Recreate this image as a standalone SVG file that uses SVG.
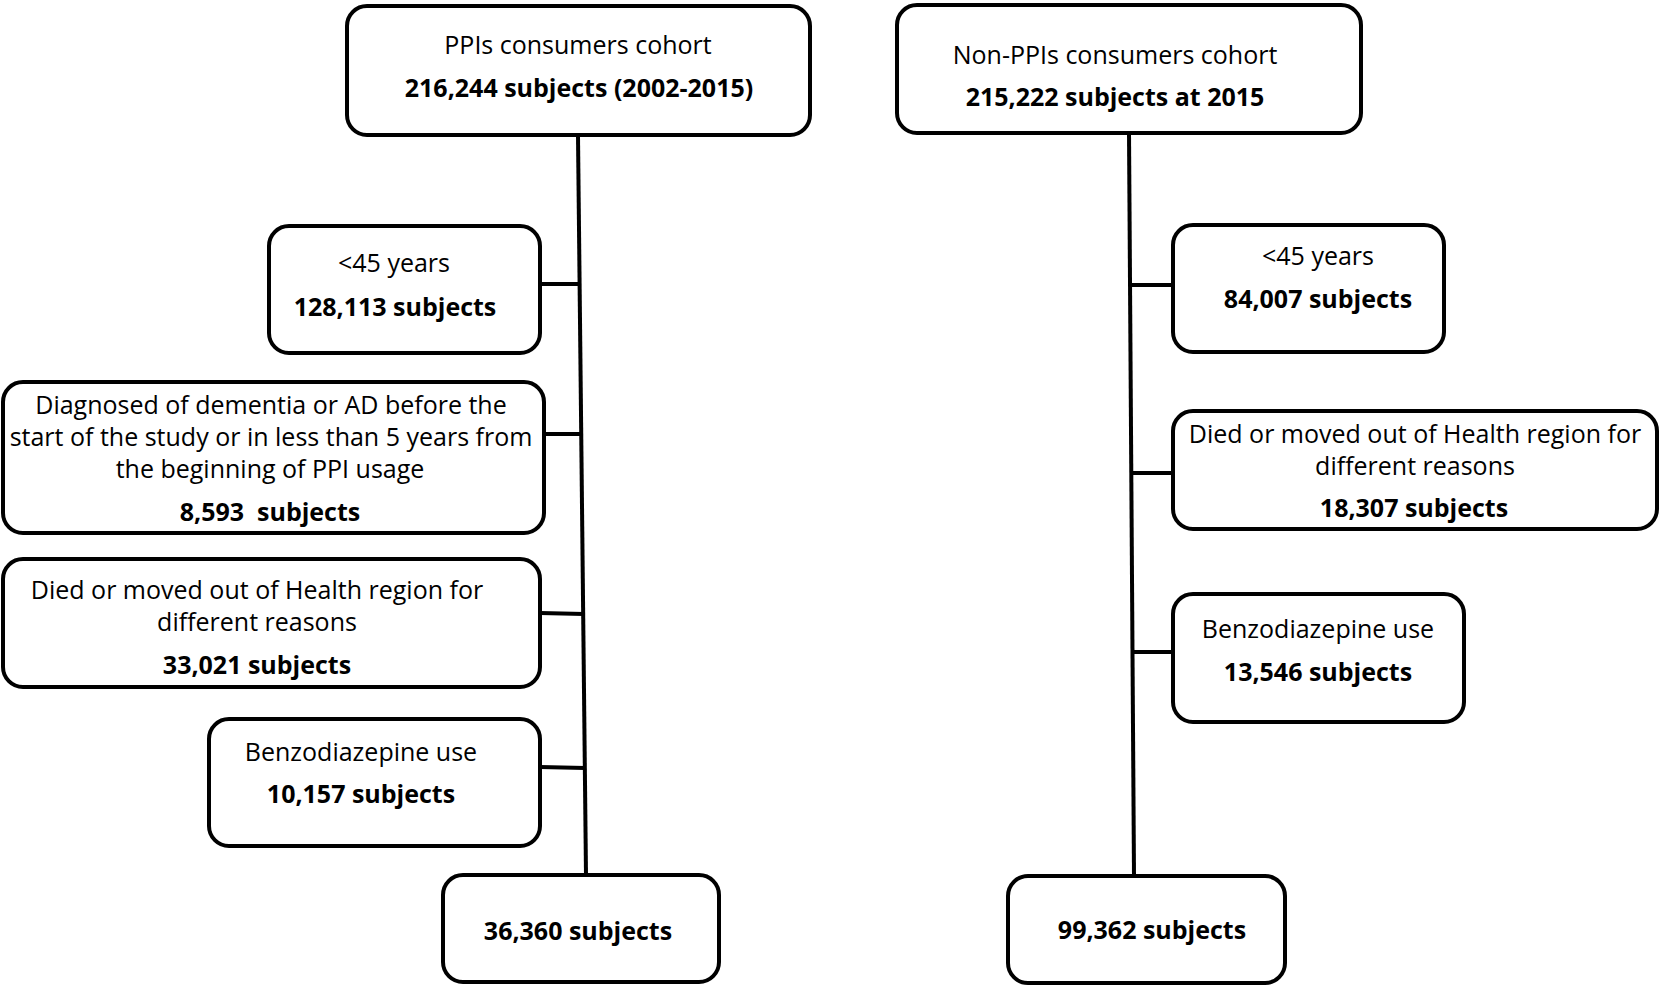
<svg xmlns="http://www.w3.org/2000/svg" width="1661" height="987" viewBox="0 0 1661 987">
<style>
.box{fill:#fff;stroke:#000;stroke-width:4}
.ln{stroke:#000;stroke-width:4;fill:none}
text{font-family:"Open Sans","Liberation Sans",sans-serif;font-size:25px;fill:#000;text-anchor:middle}
.b{font-weight:bold}
</style>
<rect width="1661" height="987" fill="#fff"/>
<g id="connectors">
<line class="ln" x1="578" y1="136" x2="586" y2="875"/>
<line class="ln" x1="540" y1="284" x2="580" y2="284"/>
<line class="ln" x1="544" y1="434" x2="582" y2="434"/>
<line class="ln" x1="540" y1="613" x2="584" y2="614"/>
<line class="ln" x1="540" y1="767" x2="585" y2="768"/>
<line class="ln" x1="1129" y1="133" x2="1134" y2="875"/>
<line class="ln" x1="1130" y1="285" x2="1173" y2="285"/>
<line class="ln" x1="1131" y1="473" x2="1173" y2="473"/>
<line class="ln" x1="1132" y1="652" x2="1173" y2="652"/>
</g>
<g id="ppi-cohort">
<rect class="box" x="347" y="6" width="463" height="129" rx="20"/>
<text x="578" y="54">PPIs consumers cohort</text>
<text class="b" x="579" y="97">216,244 subjects (2002-2015)</text>
</g>
<g id="nonppi-cohort">
<rect class="box" x="897" y="5" width="464" height="128" rx="20"/>
<text x="1115" y="64">Non-PPIs consumers cohort</text>
<text class="b" x="1115" y="106">215,222 subjects at 2015</text>
</g>
<g id="left-age">
<rect class="box" x="269" y="226" width="271" height="127" rx="20"/>
<text x="394" y="272">&lt;45 years</text>
<text class="b" x="395" y="316">128,113 subjects</text>
</g>
<g id="left-dementia">
<rect class="box" x="3" y="382" width="541" height="151" rx="20"/>
<text x="271" y="414">Diagnosed of dementia or AD before the</text>
<text x="271" y="446">start of the study or in less than 5 years from</text>
<text x="270" y="478">the beginning of PPI usage</text>
<text class="b" x="270" y="521" xml:space="preserve">8,593  subjects</text>
</g>
<g id="left-died">
<rect class="box" x="3" y="559" width="537" height="128" rx="20"/>
<text x="257" y="599">Died or moved out of Health region for</text>
<text x="257" y="631">different reasons</text>
<text class="b" x="257" y="674">33,021 subjects</text>
</g>
<g id="left-benzo">
<rect class="box" x="209" y="719" width="331" height="127" rx="20"/>
<text x="361" y="761">Benzodiazepine use</text>
<text class="b" x="361" y="803">10,157 subjects</text>
</g>
<g id="left-final">
<rect class="box" x="443" y="875" width="276" height="107" rx="20"/>
<text class="b" x="578" y="940">36,360 subjects</text>
</g>
<g id="right-age">
<rect class="box" x="1173" y="225" width="271" height="127" rx="20"/>
<text x="1318" y="265">&lt;45 years</text>
<text class="b" x="1318" y="308">84,007 subjects</text>
</g>
<g id="right-died">
<rect class="box" x="1173" y="411" width="484" height="118" rx="20"/>
<text x="1415" y="443">Died or moved out of Health region for</text>
<text x="1415" y="475">different reasons</text>
<text class="b" x="1414" y="517">18,307 subjects</text>
</g>
<g id="right-benzo">
<rect class="box" x="1173" y="594" width="291" height="128" rx="20"/>
<text x="1318" y="638">Benzodiazepine use</text>
<text class="b" x="1318" y="681">13,546 subjects</text>
</g>
<g id="right-final">
<rect class="box" x="1008" y="876" width="277" height="107" rx="20"/>
<text class="b" x="1152" y="939">99,362 subjects</text>
</g>
</svg>
